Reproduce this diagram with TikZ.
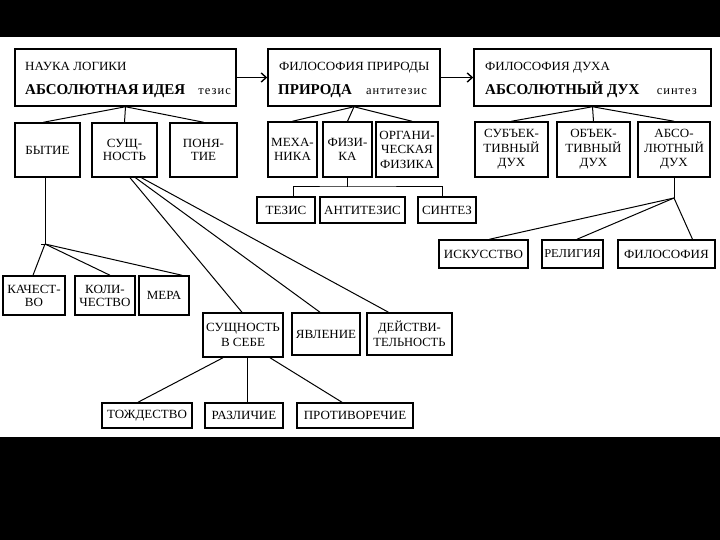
\documentclass[tikz,border=0pt]{standalone}
\usepackage{fontspec}
\setmainfont{Liberation Serif}
\newfontfamily\wideserif[FakeStretch=1.04]{Liberation Serif}
\newfontfamily\spacedserif[LetterSpace=8]{Liberation Serif}
\usetikzlibrary{arrows.meta}
\tikzset{
  bx/.style 2 args={draw, line width=1.5pt, inner sep=0pt, align=center,
    minimum width=#1pt, minimum height=#2pt, font=\wideserif\fontsize{12.5}{14.5}\selectfont},
  ttl/.style={inner sep=0pt, font=\wideserif\fontsize{12.5}{14}\selectfont},
  big/.style={inner sep=0pt, font=\fontsize{15}{17}\selectfont\bfseries},
  small/.style={inner sep=0pt, font=\spacedserif\fontsize{12.5}{14}\selectfont},
  con/.style={line width=1pt},
  arr/.style={line width=1.4pt, -{Straight Barb[length=5pt,width=9pt,line width=1.4pt]}}
}
\begin{document}
\begin{tikzpicture}[x=1pt,y=-1pt]
\useasboundingbox (0,0) rectangle (720,540);
\fill[black] (0,0) rectangle (720,37);
\fill[black] (0,437) rectangle (720,540);

% top boxes
\node[bx={221}{57}] (L) at (125.5,77.5) {};
\node[ttl,anchor=base west] (Lt) at (25,71) {НАУКА ЛОГИКИ};
\node[big,anchor=base west] (Lb) at (25,95) {АБСОЛЮТНАЯ ИДЕЯ};
\node[small,anchor=base east] (Ls) at (231,95) {тезис};

\node[bx={172}{57}] (N) at (354,77.5) {};
\node[ttl,anchor=base west] (Nt) at (279,71) {ФИЛОСОФИЯ ПРИРОДЫ};
\node[big,anchor=base west] (Nb) at (278,95) {ПРИРОДА};
\node[small,anchor=base east] (Ns) at (427,95) {антитезис};

\node[bx={237}{57}] (S) at (592.5,77.5) {};
\node[ttl,anchor=base west] (St) at (485,71) {ФИЛОСОФИЯ ДУХА};
\node[big,anchor=base west] (Sb) at (485,95) {АБСОЛЮТНЫЙ ДУХ};
\node[small,anchor=base east] (Ss) at (697,95) {синтез};

\draw[arr] (L.east) -- (N.west);
\draw[arr] (N.east) -- (S.west);

% second row
\node[bx={65}{54}, font=\wideserif\fontsize{12.5}{13}\selectfont] (byt) at (47.5,150) {БЫТИЕ};
\node[bx={65}{54}, font=\wideserif\fontsize{12.5}{13}\selectfont] (sush) at (124.5,150) {СУЩ-\\НОСТЬ};
\node[bx={67}{54}, font=\wideserif\fontsize{12.5}{13}\selectfont] (pon) at (203.5,150) {ПОНЯ-\\ТИЕ};
\node[bx={49}{55}] (mech) at (292.5,149.5) {МЕХА-\\НИКА};
\node[bx={49}{55}] (phys) at (347.5,149.5) {ФИЗИ-\\КА};
\node[bx={62}{55}] (org) at (407,149.5) {ОРГАНИ-\\ЧЕСКАЯ\\ФИЗИКА};
\node[bx={73}{55}] (subj) at (511.5,149.5) {СУБЪЕК-\\ТИВНЫЙ\\ДУХ};
\node[bx={73}{55}] (obj) at (593.5,149.5) {ОБЪЕК-\\ТИВНЫЙ\\ДУХ};
\node[bx={72}{55}] (abs) at (674,149.5) {АБСО-\\ЛЮТНЫЙ\\ДУХ};

\draw[con] (L.south) -- ([xshift=-4pt]byt.north);
\draw[con] (L.south) -- (sush.north);
\draw[con] (L.south) -- (pon.north);
\draw[con] (N.south) -- (mech.north);
\draw[con] (N.south) -- (phys.north);
\draw[con] (N.south) -- ([xshift=5pt]org.north);
\draw[con] (S.south) -- (subj.north);
\draw[con] (S.south) -- (obj.north);
\draw[con] (S.south) -- (abs.north);

% thesis row
\node[bx={58}{26}] (tez) at (286,210) {ТЕЗИС};
\node[bx={85}{26}] (anti) at (362.5,210) {АНТИТЕЗИС};
\node[bx={58}{26}] (sint) at (447,210) {СИНТЕЗ};
\coordinate (pj) at (347.5,187);
\draw[con] (phys.south) -- (pj);
\draw[con] ([xshift=7pt]tez.north) |- (pj) -| ([xshift=-5pt]sint.north);

% arts row
\node[bx={89}{28}] (isk) at (483.5,254) {ИСКУССТВО};
\node[bx={61}{28}, font=\wideserif\fontsize{12}{14}\selectfont] (rel) at (572.5,254) {РЕЛИГИЯ};
\node[bx={97}{28}] (fil) at (666.5,254) {ФИЛОСОФИЯ};
\coordinate (aj) at (674,198);
\draw[con] (abs.south) -- (aj);
\draw[con] (aj) -- ([xshift=6pt]isk.north);
\draw[con] (aj) -- ([xshift=4.5pt]rel.north);
\draw[con] (aj) -- ([xshift=26pt]fil.north);

% being subdivisions
\node[bx={62}{39}, font=\wideserif\fontsize{12.5}{13}\selectfont] (kach) at (34,295.5) {КАЧЕСТ-\\ВО};
\node[bx={60}{39}, font=\wideserif\fontsize{12.5}{13}\selectfont] (kol) at (105,295.5) {КОЛИ-\\ЧЕСТВО};
\node[bx={50}{39}] (mera) at (164,295.5) {МЕРА};
\coordinate (bj) at (45,244);
\coordinate (bjl) at (41,244);
\draw[con] ([xshift=-2.5pt]byt.south) -- (bj);
\draw[con] (bjl) -- (bj);
\draw[con] (bj) -- ([xshift=-1pt]kach.north);
\draw[con] (bj) -- ([xshift=5pt]kol.north);
\draw[con] (bj) -- ([xshift=18pt]mera.north);

% essence subdivisions
\node[bx={80}{44}] (ess) at (243,335) {СУЩНОСТЬ\\В СЕБЕ};
\node[bx={68}{42}] (yav) at (326,334) {ЯВЛЕНИЕ};
\node[bx={85}{42}, font=\fontsize{12.5}{14.5}\selectfont] (deist) at (409.5,334) {ДЕЙСТВИ-\\ТЕЛЬНОСТЬ};
\draw[con] ([xshift=5.5pt]sush.south) -- ([xshift=-1pt]ess.north);
\draw[con] ([xshift=11pt]sush.south) -- ([xshift=-6pt]yav.north);
\draw[con] ([xshift=17pt]sush.south) -- ([xshift=-21pt]deist.north);

% bottom row
\node[bx={90}{25}] (tozh) at (147,415.5) {ТОЖДЕСТВО};
\node[bx={78}{25}] (raz) at (244,415.5) {РАЗЛИЧИЕ};
\node[bx={116}{25}] (prot) at (355,415.5) {ПРОТИВОРЕЧИЕ};
\draw[con] ([xshift=-20pt]ess.south) -- ([xshift=-9pt]tozh.north);
\draw[con] ([xshift=4pt]ess.south) -- ([xshift=3pt]raz.north);
\draw[con] ([xshift=27pt]ess.south) -- ([xshift=-13pt]prot.north);
\end{tikzpicture}
\end{document}
